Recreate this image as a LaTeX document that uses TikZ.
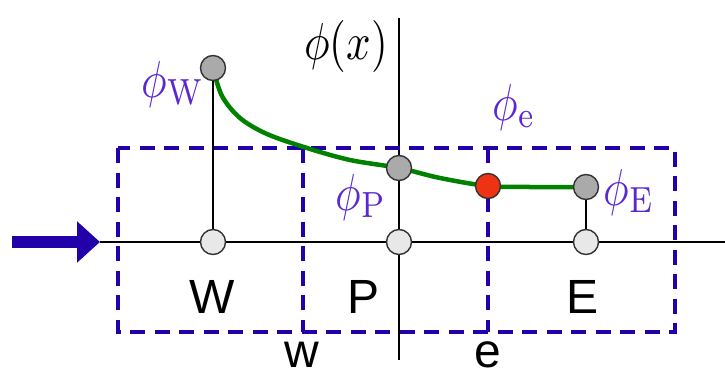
\documentclass[tikz,border=0pt]{standalone}
\usepackage{fontspec}
\newfontfamily\arialf{Liberation Sans}
\usetikzlibrary{arrows.meta,backgrounds}
\definecolor{dashblue}{RGB}{34,0,170}
\definecolor{labblue}{RGB}{90,40,210}
\definecolor{curvegreen}{RGB}{0,130,0}
\definecolor{ptred}{RGB}{240,50,20}
\definecolor{ptgray}{RGB}{170,170,170}
\definecolor{ptlight}{RGB}{232,232,232}
\tikzset{
  pt/.style={circle, draw=black!80, line width=1.4pt, inner sep=0pt, minimum size=25pt},
  grid pt/.style={pt, fill=ptlight},
  val pt/.style={pt, fill=ptgray},
  face pt/.style={pt, fill=ptred},
  mlab/.style={anchor=base, inner sep=0pt, text=labblue, font=\normalsize, xscale=4.3, yscale=5.2},
  cellab/.style={anchor=base, inner sep=0pt, font=\arialf\fontsize{48}{52}\selectfont},
  cvbox/.style={draw=dashblue, line width=4pt, dash pattern=on 15pt off 9.5pt},
  axis/.style={draw=black, line width=1.5pt},
  stem/.style={draw=black, line width=1.5pt},
  profile/.style={draw=curvegreen, line width=4.5pt},
  inflow/.style={draw=dashblue, line width=12pt, -{Triangle[length=23pt,width=40pt]}}
}
\begin{document}
\begin{tikzpicture}[x=1pt,y=-1pt]
\useasboundingbox (0,0) rectangle (725,372);
% grid points on the axis
\node[grid pt] (aW) at (213,242) {};
\node[grid pt] (aP) at (399,242) {};
\node[grid pt] (aE) at (586,242) {};
% values
\node[val pt] (pW) at (213,68) {};
\node[val pt] (pP) at (399,168) {};
\node[val pt] (pE) at (586,187) {};
\node[face pt] (fe) at (488,186) {};
% axis coordinates
\coordinate (axL) at (100,242);
\coordinate (axR) at (725,242);
\coordinate (vT) at (399,18);
\coordinate (vB) at (399,360);
\coordinate (arS) at (12,242);
% cv box corners
\coordinate (bTL) at (118,148);
\coordinate (bBR) at (675,332);
\coordinate (wT) at (303,148);
\coordinate (wB) at (303,332);
\coordinate (eT) at (488,148);
\coordinate (eB) at (488,332);
\begin{scope}[on background layer]
  \draw[axis] (axL) -- (axR);
  \draw[axis] (vT) -- (vB);
  \draw[cvbox] (bTL) rectangle (bBR);
  \draw[cvbox] (wT) -- (wB);
  \draw[cvbox] (eT) -- (eB);
  \draw[stem] (pW) -- (aW);
  \draw[stem] (pE) -- (aE);
  \draw[profile] plot[smooth, tension=0.55] coordinates {(pW.center) (222,96) (240,118) (267,134) (307,148) (350,160) (pP.center) (440,178) (fe.center) (530,187) (pE.center)};
\end{scope}
\draw[inflow] (arS) -- (axL);
% labels
\node[mlab, text=black] (lphix) at (346,59) {$\phi(x)$};
\node[mlab] (lW) at (173,97) {$\phi_{\mathrm{W}}$};
\node[mlab] (le) at (514,120) {$\phi_{\mathrm{e}}$};
\node[mlab] (lP) at (361,210) {$\phi_{\mathrm{P}}$};
\node[mlab] (lE) at (629,205) {$\phi_{\mathrm{E}}$};
\node[cellab] (cW) at (212,313) {W};
\node[cellab] (cP) at (364,313) {P};
\node[cellab] (cE) at (582,313) {E};
\node[cellab] (fw) at (302,367) {w};
\node[cellab] (fe2) at (488,367) {e};
\end{tikzpicture}
\end{document}
